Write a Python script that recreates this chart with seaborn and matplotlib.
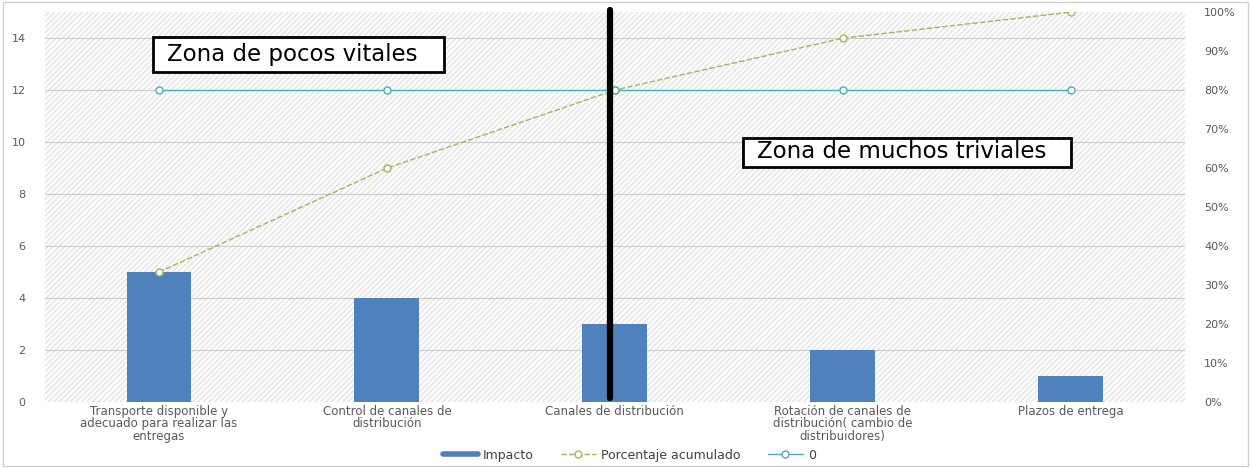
import numpy as np
import pandas as pd
import matplotlib
matplotlib.use("Agg")
import matplotlib.pyplot as plt
import seaborn as sns
from matplotlib.patches import Rectangle
from matplotlib.lines import Line2D

# Pareto data
causas = [
    "Transporte disponible y\nadecuado para realizar las\nentregas",
    "Control de canales de\ndistribución",
    "Canales de distribución",
    "Rotación de canales de\ndistribución( cambio de\ndistribuidores)",
    "Plazos de entrega",
]
impacto = [5, 4, 3, 2, 1]
porcentaje_acum = [0.3333, 0.60, 0.80, 0.9333, 1.00]
linea_80 = [0.80, 0.80, 0.80, 0.80, 0.80]

sns.set_style("white")
plt.rcParams['font.family'] = ['DejaVu Sans']

df = pd.DataFrame({"causa": causas, "impacto": impacto})

fig = plt.figure(figsize=(12.51, 4.68), dpi=100)
ax = fig.add_axes([0.036, 0.141, 0.911, 0.833])

# hatched plot background
ax.add_patch(Rectangle((0, 0), 1, 1, transform=ax.transAxes, facecolor="white",
                       edgecolor="#e3e3e3", hatch="//////", lw=0, zorder=0))
ax.set_axisbelow(True)
ax.yaxis.grid(True, color="#cccccc", lw=0.8)

sns.barplot(data=df, x="causa", y="impacto", color="#4F81BD", width=0.285,
            saturation=1, linewidth=0, ax=ax, zorder=2)
ax.set_ylim(0, 15)
ax.set_yticks(range(0, 16, 2))
ax.set_xlim(-0.5, 4.5)
ax.set_xlabel("")
ax.set_ylabel("")
ax.tick_params(axis="x", labelsize=8.5, colors="#595959", length=0, pad=2)
ax.tick_params(axis="y", labelsize=8, colors="#595959", length=0, pad=14)
for lbl in ax.get_xticklabels():
    lbl.set_linespacing(0.95)
for s in ax.spines.values():
    s.set_visible(False)

ax2 = ax.twinx()
x = np.arange(len(causas))
ax2.plot(x, porcentaje_acum, color="#9BBB59", lw=1, ls=(0, (4, 1.5)), marker="o",
         markersize=5, markerfacecolor="white", markeredgecolor="#9BBB59", zorder=3)
ax2.plot(x, linea_80, color="#4BACC6", lw=1, marker="o", markersize=5,
         markerfacecolor="white", markeredgecolor="#4BACC6", zorder=3)
ax2.set_ylim(0, 1)
ax2.set_yticks(np.linspace(0, 1, 11))
ax2.set_yticklabels([f"{int(round(v * 100))}%" for v in np.linspace(0, 1, 11)])
ax2.tick_params(axis="y", labelsize=8, colors="#595959", length=0, pad=14)
for s in ax2.spines.values():
    s.set_visible(False)

# vertical separator
ax2.axvline(1.98, ymin=0.01, ymax=1.005, color="black", lw=4.5, zorder=5, clip_on=False)

# zone labels
fig.patches.append(Rectangle((153 / 1251, 1 - 72 / 468), 291 / 1251, 35 / 468,
                             transform=fig.transFigure, facecolor="white",
                             edgecolor="black", lw=2, zorder=6))
fig.text(167 / 1251, 1 - 55 / 468, "Zona de pocos vitales", fontsize=16.5, color="black",
         va="center", ha="left", zorder=7)
fig.patches.append(Rectangle((743 / 1251, 1 - 167 / 468), 328 / 1251, 29 / 468,
                             transform=fig.transFigure, facecolor="white",
                             edgecolor="black", lw=2, zorder=6))
fig.text(757 / 1251, 1 - 152 / 468, "Zona de muchos triviales", fontsize=16.5, color="black",
         va="center", ha="left", zorder=7)

# legend
handles = [
    Line2D([0], [0], color="#4F81BD", lw=4),
    Line2D([0], [0], color="#9BBB59", lw=1, ls=(0, (4, 1.5)), marker="o", markersize=5,
           markerfacecolor="white"),
    Line2D([0], [0], color="#4BACC6", lw=1, marker="o", markersize=5, markerfacecolor="white"),
]
fig.legend(handles, ["Impacto", "Porcentaje acumulado", "0"], loc="center",
           bbox_to_anchor=(0.503, 0.027), ncol=3, frameon=False, fontsize=9,
           handlelength=2.8, handletextpad=0.4, columnspacing=2.2, labelcolor="#404040")

# outer frame
fig.patches.append(Rectangle((0.002, 0.004), 0.996, 0.992, transform=fig.transFigure,
                             fill=False, edgecolor="#d0d0d0", lw=1))

fig.savefig("out.png", dpi=100)
